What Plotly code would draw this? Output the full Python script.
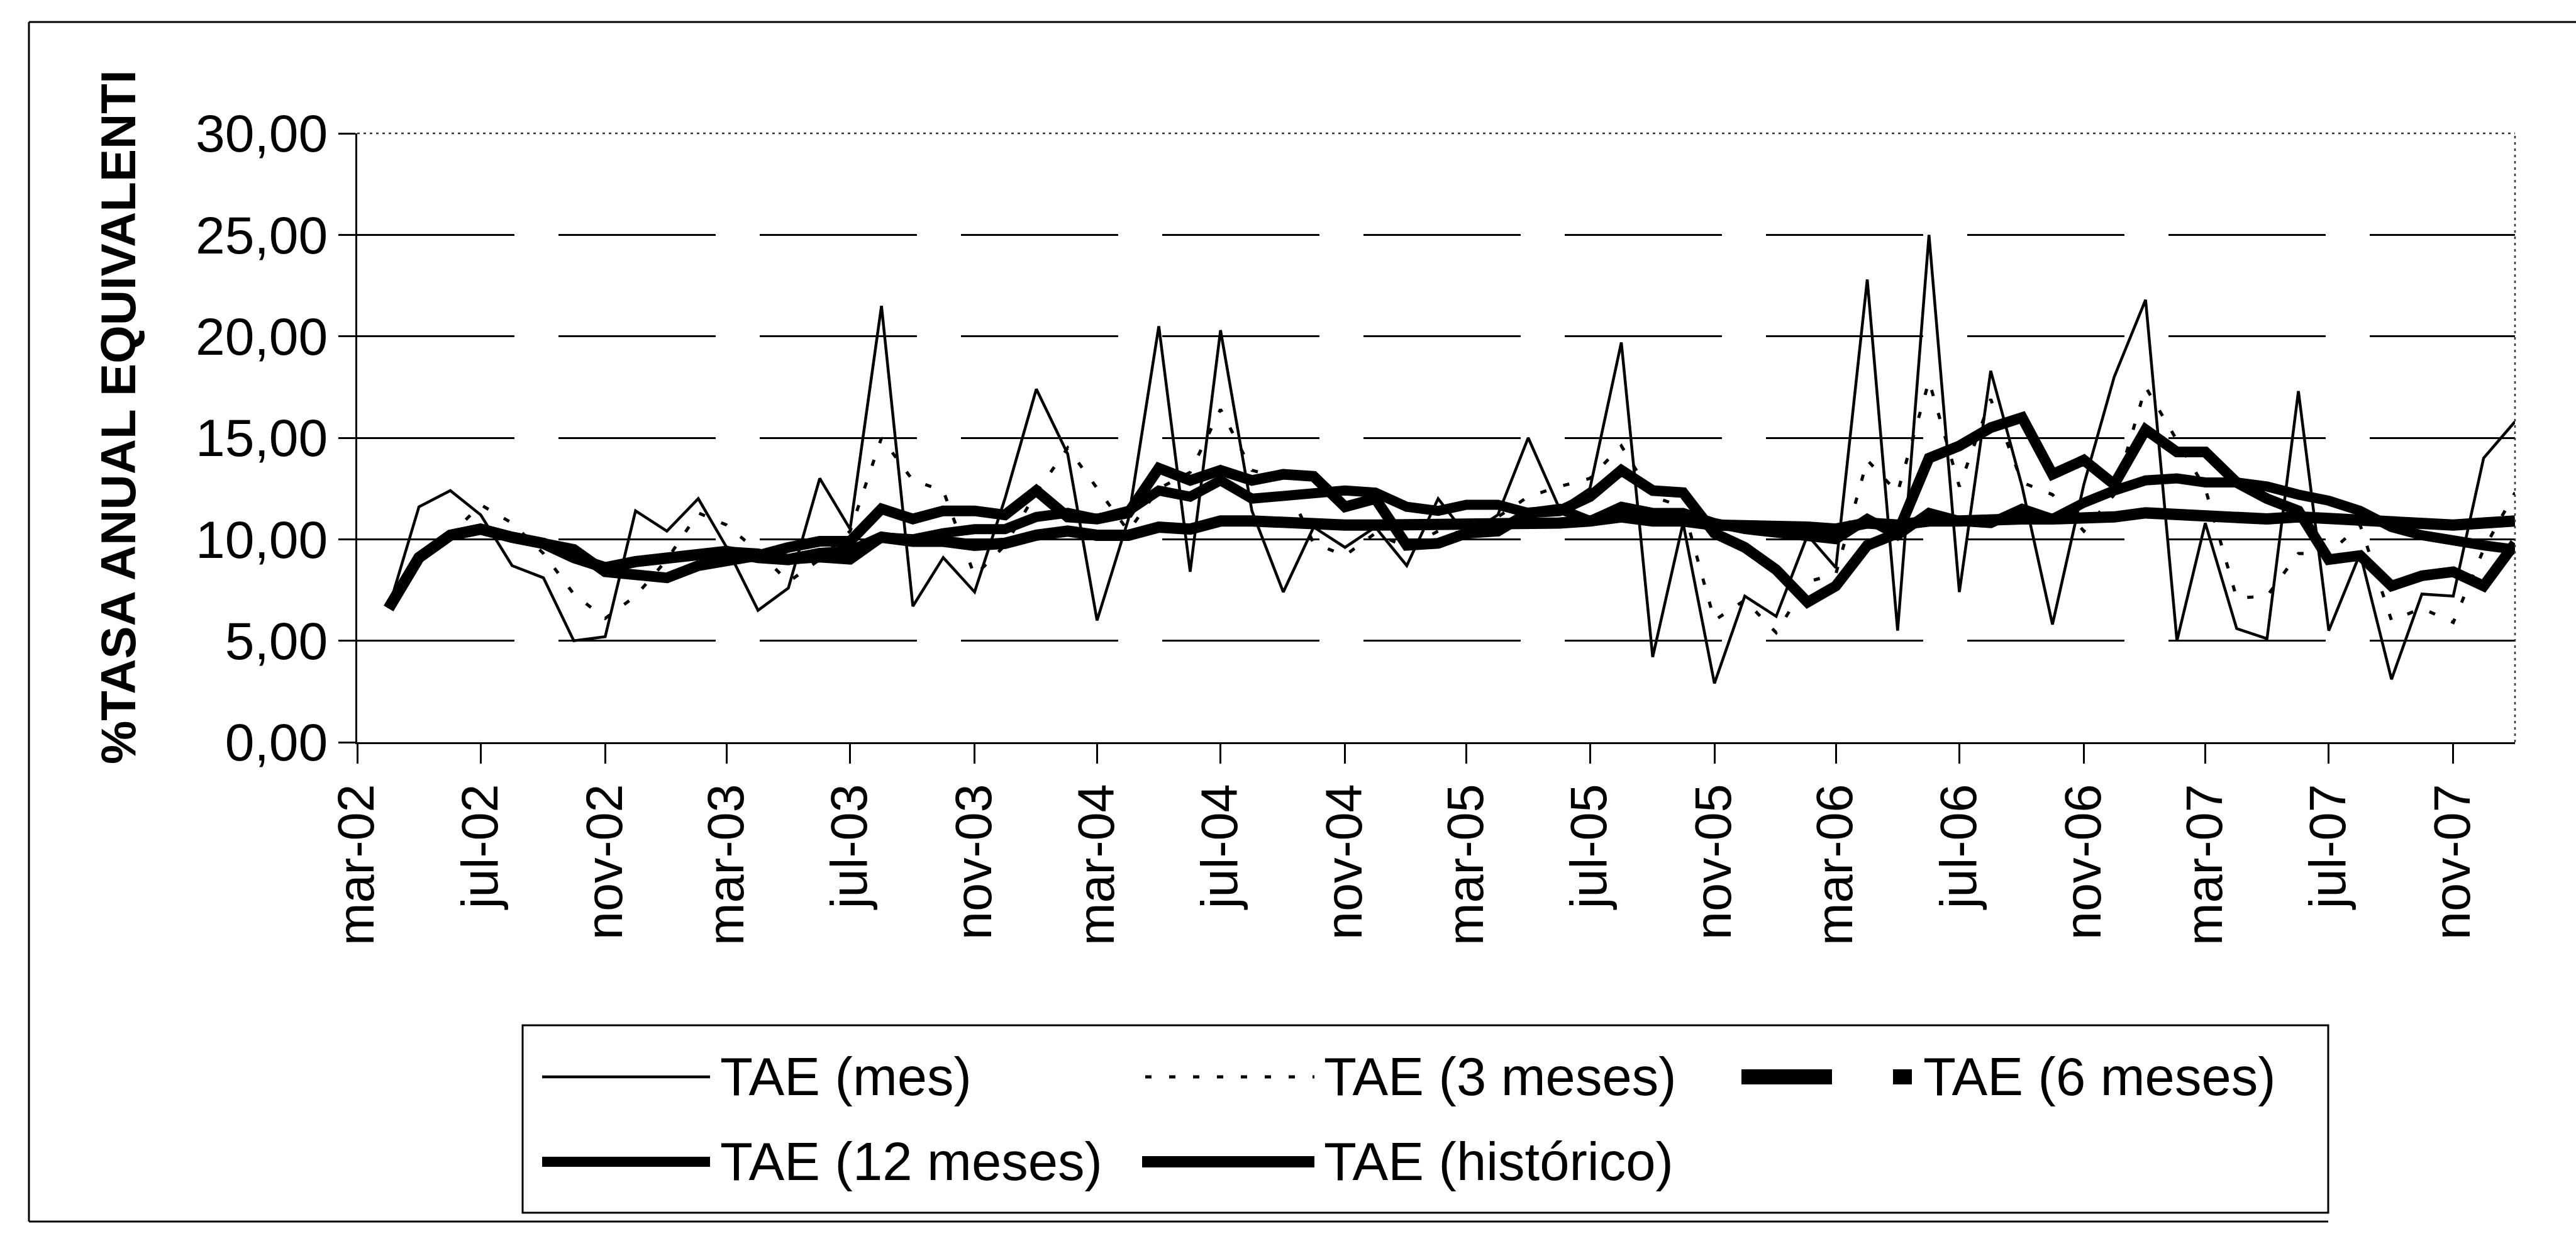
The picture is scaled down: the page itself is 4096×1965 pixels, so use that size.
import plotly.graph_objects as go
import pandas as pd

# ---------------- data ----------------
months = pd.date_range("2002-04-01", periods=70, freq="MS")

tae_mes = [6.6, 11.6, 12.4, 11.2, 8.7, 8.1, 5.0, 5.2, 11.4, 10.4,
           12.0, 9.6, 6.5, 7.6, 13.0, 10.5, 21.5, 6.7, 9.1, 7.4,
           12.0, 17.4, 14.2, 6.0, 11.0, 20.5, 8.4, 20.3, 11.4, 7.4,
           10.6, 9.6, 10.6, 8.7, 12.0, 10.2, 11.2, 15.0, 11.5, 12.5,
           19.7, 4.2, 10.8, 2.9, 7.2, 6.2, 10.2, 8.6, 22.8, 5.5,
           25.0, 7.4, 18.3, 12.6, 5.8, 12.7, 18.0, 21.8, 5.0, 10.8,
           5.6, 5.1, 17.3, 5.5, 9.3, 3.1, 7.3, 7.2, 14.0, 15.8]

tae_3m = [6.6, 9.1, 10.2, 11.7, 10.8, 9.3, 7.3, 6.1, 7.2, 9.0,
          11.3, 10.7, 9.4, 7.9, 9.0, 10.4, 15.0, 12.9, 12.4, 8.2,
          9.7, 12.3, 14.5, 12.5, 10.4, 12.5, 13.3, 16.4, 13.4, 13.0,
          9.8, 9.2, 10.3, 9.6, 10.4, 10.3, 11.1, 12.1, 12.6, 13.0,
          14.6, 12.1, 11.6, 6.0, 7.0, 5.4, 7.9, 8.3, 13.9, 12.3,
          17.8, 12.6, 16.9, 12.8, 12.2, 10.4, 12.2, 17.5, 14.9, 12.5,
          7.1, 7.2, 9.3, 9.3, 10.7, 6.0, 6.6, 5.9, 9.5, 12.3]

tae_6m = [6.6, 9.1, 10.2, 10.5, 10.1, 9.8, 9.5, 8.4, 8.3, 8.1,
          8.7, 8.9, 9.2, 9.6, 9.9, 9.9, 11.5, 11.0, 11.4, 11.4,
          11.2, 12.4, 11.1, 11.0, 11.3, 13.5, 12.9, 13.4, 12.9, 13.2,
          13.1, 11.6, 12.0, 9.7, 9.8, 10.3, 10.4, 11.3, 11.4, 12.1,
          13.4, 12.4, 12.3, 10.3, 9.6, 8.5, 6.9, 7.7, 9.7, 10.3,
          14.0, 14.6, 15.5, 16.0, 13.2, 13.9, 12.7, 15.4, 14.3, 14.3,
          12.8, 12.0, 11.4, 9.0, 9.2, 7.7, 8.2, 8.4, 7.7, 9.8]

tae_12m = [6.6, 9.1, 10.2, 10.5, 10.1, 9.8, 9.1, 8.6, 8.9, 9.1,
           9.3, 9.4, 9.3, 9.0, 9.1, 9.0, 10.1, 10.0, 10.3, 10.5,
           10.5, 11.1, 11.3, 11.0, 11.4, 12.4, 12.1, 12.9, 12.0, 12.1,
           12.2, 12.4, 12.3, 11.6, 11.4, 11.7, 11.7, 11.3, 11.5, 10.9,
           11.6, 11.3, 11.3, 10.8, 10.5, 10.3, 10.1, 10.0, 11.0, 10.2,
           11.3, 10.9, 10.8, 11.5, 11.0, 11.8, 12.4, 12.9, 13.0, 12.8,
           12.8, 12.6, 12.2, 11.9, 11.4, 10.6, 10.2, 9.9, 9.7, 9.5]

tae_hist = [6.6, 9.1, 10.2, 10.5, 10.1, 9.8, 9.1, 8.6, 8.9, 9.1,
            9.3, 9.4, 9.1, 9.0, 9.3, 9.4, 10.1, 9.9, 9.9, 9.7,
            9.8, 10.2, 10.4, 10.2, 10.2, 10.6, 10.5, 10.9, 10.9, 10.8,
            10.8, 10.7, 10.7, 10.7, 10.7, 10.7, 10.7, 10.8, 10.8, 10.9,
            11.1, 10.9, 10.9, 10.7, 10.7, 10.6, 10.6, 10.5, 10.8, 10.7,
            10.9, 10.9, 11.0, 11.0, 11.0, 11.0, 11.1, 11.3, 11.2, 11.2,
            11.1, 11.0, 11.1, 11.0, 11.0, 10.9, 10.8, 10.7, 10.8, 10.9]

tick_dates = ["2002-03-01", "2002-07-01", "2002-11-01", "2003-03-01", "2003-07-01",
              "2003-11-01", "2004-03-01", "2004-07-01", "2004-11-01", "2005-03-01",
              "2005-07-01", "2005-11-01", "2006-03-01", "2006-07-01", "2006-11-01",
              "2007-03-01", "2007-07-01", "2007-11-01"]
tick_labels = ["mar-02", "jul-02", "nov-02", "mar-03", "jul-03", "nov-03",
               "mar-04", "jul-04", "nov-04", "mar-05", "jul-05", "nov-05",
               "mar-06", "jul-06", "nov-06", "mar-07", "jul-07", "nov-07"]
y_ticks = [0, 5, 10, 15, 20, 25, 30]

series_names = ["TAE (mes)", "TAE (3 meses)", "TAE (6 meses)",
                "TAE (12 meses)", "TAE (histórico)"]

# ---------------- layout geometry ----------------
W, H = 4096, 1965
L, R, T, B = 568, 3999, 212, 1180
FONT = "Liberation Sans, Arial, sans-serif"


def px(xp):
    return (xp - L) / (R - L)


def py(yp):
    return (B - yp) / (B - T)


fig = go.Figure()

styles = [
    dict(color="black", width=4.5),
    dict(color="black", width=5, dash="10px,28px"),
    dict(color="black", width=17),
    dict(color="black", width=16),
    dict(color="black", width=18),
]
for name, vals, st in zip(series_names,
                          [tae_mes, tae_3m, tae_6m, tae_12m, tae_hist],
                          styles):
    fig.add_trace(go.Scatter(x=months, y=vals, mode="lines", name=name,
                             line=st, showlegend=False))

fig.update_layout(
    width=W, height=H, autosize=False,
    margin=dict(l=L, r=W - R, t=T, b=H - B, autoexpand=False),
    paper_bgcolor="white", plot_bgcolor="white",
    separators=",.",
    font=dict(family=FONT, color="black"),
    showlegend=False,
)
fig.update_xaxes(
    type="date", range=["2002-03-01", "2008-01-01"],
    tickmode="array", tickvals=tick_dates, ticktext=tick_labels,
    tickangle=-90, ticks="outside", ticklen=31, tickwidth=3, tickcolor="black",
    showline=True, linecolor="black", linewidth=3, showgrid=False,
    zeroline=False, tickfont=dict(size=81, family=FONT, color="black"),
    automargin=False,
)
fig.update_yaxes(
    range=[0, 30], tickmode="array", tickvals=y_ticks, tickformat=".2f",
    ticks="outside", ticklen=27, tickwidth=3, tickcolor="black",
    showline=True, linecolor="black", linewidth=3,
    showgrid=True, gridcolor="black", gridwidth=3, griddash="250px,70px",
    zeroline=False, tickfont=dict(size=84, family=FONT, color="black"),
    automargin=False,
)

shapes = []
# plot area top and right borders (dotted)
shapes.append(dict(type="line", xref="paper", yref="paper", x0=0, x1=1, y0=1, y1=1,
                   line=dict(color="#333333", width=2.5, dash="4px,6px")))
shapes.append(dict(type="line", xref="paper", yref="paper", x0=1, x1=1, y0=0, y1=1,
                   line=dict(color="#333333", width=2.5, dash="4px,6px")))
# outer frame
shapes.append(dict(type="line", xref="paper", yref="paper", x0=px(46), x1=px(W), y0=py(35), y1=py(35),
                   line=dict(color="black", width=3)))
shapes.append(dict(type="line", xref="paper", yref="paper", x0=px(46), x1=px(46), y0=py(35), y1=py(1942),
                   line=dict(color="black", width=3)))
shapes.append(dict(type="line", xref="paper", yref="paper", x0=px(46), x1=px(3702), y0=py(1942), y1=py(1942),
                   line=dict(color="black", width=3)))
# legend box
shapes.append(dict(type="rect", xref="paper", yref="paper", x0=px(831), x1=px(3702),
                   y0=py(1630), y1=py(1928), line=dict(color="black", width=3),
                   fillcolor="white"))

row1, row2 = 1712, 1847
# legend samples
shapes.append(dict(type="line", xref="paper", yref="paper", x0=px(862), x1=px(1129),
                   y0=py(row1), y1=py(row1), line=dict(color="black", width=4.5)))
shapes.append(dict(type="line", xref="paper", yref="paper", x0=px(1821), x1=px(2090),
                   y0=py(row1), y1=py(row1), line=dict(color="black", width=5, dash="10px,28px")))
shapes.append(dict(type="rect", xref="paper", yref="paper", x0=px(2769), x1=px(2913),
                   y0=py(row1 + 12), y1=py(row1 - 12), line=dict(width=0), fillcolor="black"))
shapes.append(dict(type="rect", xref="paper", yref="paper", x0=px(3010), x1=px(3040),
                   y0=py(row1 + 12), y1=py(row1 - 12), line=dict(width=0), fillcolor="black"))
shapes.append(dict(type="line", xref="paper", yref="paper", x0=px(862), x1=px(1129),
                   y0=py(row2), y1=py(row2), line=dict(color="black", width=16)))
shapes.append(dict(type="line", xref="paper", yref="paper", x0=px(1816), x1=px(2090),
                   y0=py(row2), y1=py(row2), line=dict(color="black", width=18)))

annotations = []
leg_pos = [(1143, row1), (2103, row1), (3056, row1), (1143, row2), (2103, row2)]
for name, (lx, ly) in zip(series_names, leg_pos):
    annotations.append(dict(xref="paper", yref="paper", x=px(lx), y=py(ly),
                            text=name, showarrow=False, xanchor="left", yanchor="middle",
                            font=dict(size=85, family=FONT, color="black")))
# y-axis title
annotations.append(dict(xref="paper", yref="paper", x=px(188), y=py(663),
                        text="%TASA ANUAL EQUIVALENTI", showarrow=False, textangle=-90,
                        xanchor="center", yanchor="middle",
                        font=dict(size=78, family=FONT, color="black", weight="bold")))

fig.update_layout(shapes=shapes, annotations=annotations)

fig.write_html("out.html",
               config={"displayModeBar": False},
               post_script="document.body.style.margin='0';document.body.style.overflow='hidden';")
